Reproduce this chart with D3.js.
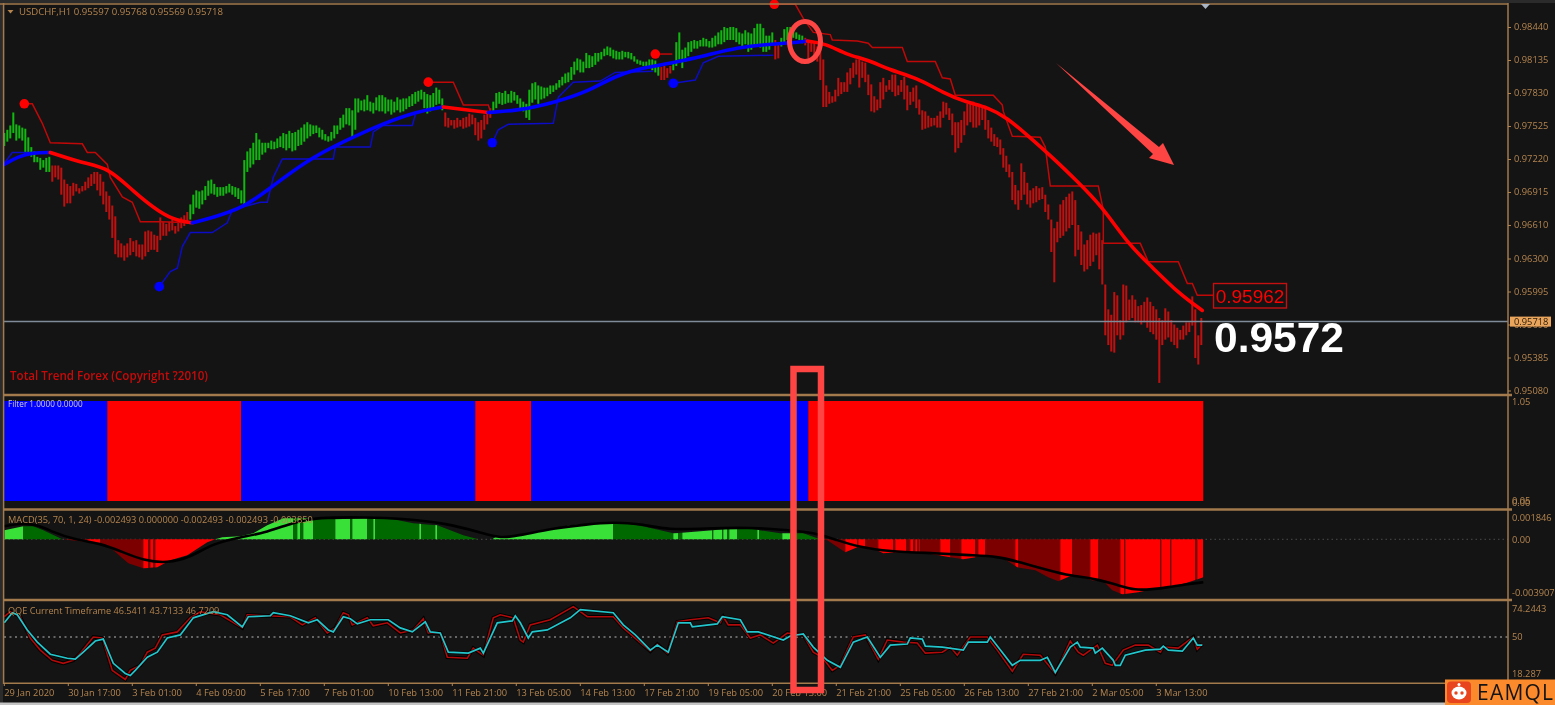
<!DOCTYPE html>
<html><head><meta charset="utf-8">
<script src="https://cdn.jsdelivr.net/npm/d3@7/dist/d3.min.js"></script>
<style>
html,body{margin:0;padding:0;background:#141414;overflow:hidden}
svg{display:block;filter:blur(0.5px)}
text{font-family:"Open Sans","Noto Sans",sans-serif}
</style></head><body>
<svg id="c" width="1555" height="705"></svg>
<script>
// ---- Price bars, prices in units of 0.0001, one bar every 1.5 chart hours
const barHigh=[9746,9749,9753,9765,9754,9753,9751,9750,9742,9733,9729,9724,9723,9721,9723,9724,
9716,9716,9716,9714,9703,9699,9697,9700,9699,9695,9697,9701,9705,9708,9710,9710,9708,9701,9692,9688,9679,9669,9647,9644,9642,9644,9649,9646,9647,9643,9643,9655,9656,9655,9652,9651,9668,9664,9662,9664,9666,9660,9664,9668,9670,9673,
9680,9689,9693,9692,9693,9697,9702,9703,9699,9696,9696,9696,9697,9699,9697,9696,9695,9693,9721,9729,9732,9737,9746,9740,9737,9737,9737,9739,9738,9741,9743,9746,9745,9748,9746,9747,9749,9751,9754,9756,9754,9753,9753,9751,9749,9745,9743,9747,9753,9753,9760,9763,9769,9769,9767,9778,9778,9776,9777,9781,9775,9774,9779,9781,9781,9779,9777,9777,9775,9779,9777,9778,9778,9780,9782,9784,9785,9786,9784,9782,9781,9783,9788,9786,9778,
9765,9760,9758,9758,9760,9758,9760,9761,9764,9763,9760,9756,9758,9763,9766,9769,
9775,9783,9784,9783,9785,9782,9785,9784,9781,9778,9775,9773,9786,9792,9793,9790,9789,9788,9788,9790,9790,9792,9795,9798,9801,9802,9807,9812,9815,9814,9812,9820,9818,9817,9820,9820,9821,9824,9826,9825,9823,9822,9821,9822,9821,9821,9820,9817,9814,9813,9812,9812,9814,9814,9813,9808,
9807,9808,9806,9808,
9812,9830,9839,9823,9825,9830,9831,9832,9831,9832,9834,9833,9831,9834,9836,9839,9841,9844,9843,9844,9844,9843,9839,9838,9841,9839,9838,9843,9847,9847,9843,9836,9836,9839,
9832,9830,
9834,9842,9844,9844,9841,9839,9837,9836,9834,
9832,9832,9830,9826,9823,9814,9790,9784,9780,9786,9797,9793,9793,9802,9806,9811,9814,9814,9812,9811,9800,9791,9780,9777,9793,9797,9790,9795,9800,9800,9790,9795,9798,9790,9784,9788,9790,9777,9767,9766,9762,9760,9760,9762,9766,9775,9774,9769,9764,9756,9756,9758,9766,9773,9775,9775,9771,9771,9770,9770,9758,9751,9745,9742,9740,9732,9725,9717,9710,9698,9693,9718,9710,9700,9693,9695,9697,9695,9696,9689,9680,9666,9658,9664,9680,9684,9687,9690,9692,9684,9661,9655,9643,9647,9652,9654,9653,9654,9647,9606,9583,9578,9599,9596,9573,9606,9605,9592,9596,9592,9586,9587,9590,9594,9590,9586,9583,9575,9573,9584,9581,9573,9569,9566,9564,9568,9571,9571,9595,9583,9559,9575];
const barLow=[9734,9738,9741,9746,9739,9741,9739,9727,9728,9724,9719,9719,9712,9714,9710,9710,
9701,9705,9703,9689,9678,9681,9681,9688,9692,9690,9692,9693,9695,9697,9699,9693,9688,9680,9673,9666,9649,9634,9631,9631,9628,9631,9633,9636,9632,9631,9629,9632,9636,9638,9638,9636,9647,9651,9651,9655,9656,9653,9655,9658,9660,9662,
9666,9671,9677,9676,9680,9684,9688,9690,9689,9687,9688,9688,9690,9691,9689,9687,9685,9681,9679,9710,9714,9717,9721,9721,9726,9728,9732,9731,9731,9732,9733,9732,9730,9732,9729,9730,9734,9735,9738,9741,9743,9745,9746,9742,9740,9739,9738,9739,9741,9745,9749,9751,9754,9753,9741,9749,9765,9767,9766,9767,9766,9764,9767,9766,9766,9764,9766,9763,9765,9767,9765,9766,9768,9770,9771,9773,9775,9777,9769,9764,9766,9769,9772,9773,9767,
9752,9751,9753,9750,9751,9752,9750,9751,9752,9754,9744,9739,9741,9749,9754,9760,
9766,9769,9773,9772,9773,9774,9774,9776,9773,9769,9766,9760,9758,9774,9777,9773,9777,9778,9780,9782,9784,9786,9788,9790,9792,9793,9795,9800,9804,9802,9802,9806,9806,9807,9809,9812,9814,9817,9818,9817,9815,9814,9814,9814,9816,9815,9814,9812,9810,9809,9808,9807,9806,9804,9802,9799,
9795,9795,9797,9801,
9804,9808,9814,9806,9812,9817,9821,9824,9824,9826,9826,9826,9825,9825,9826,9828,9828,9830,9832,9832,9832,9830,9828,9826,9828,9821,9823,9826,9828,9825,9821,9821,9823,9827,
9814,9815,
9826,9830,9832,9834,9834,9833,9832,9829,9827,
9815,9821,9815,9812,9795,9770,9770,9773,9774,9775,9780,9782,9784,9784,9791,9797,9800,9788,9797,9793,9781,9766,9765,9767,9769,9777,9784,9786,9784,9780,9781,9784,9777,9767,9772,9775,9769,9763,9749,9750,9751,9752,9753,9751,9751,9760,9763,9758,9744,9728,9732,9737,9744,9753,9756,9751,9751,9753,9758,9749,9741,9738,9734,9733,9726,9714,9710,9705,9684,9680,9675,9684,9689,9680,9677,9681,9682,9684,9685,9673,9666,9636,9608,9645,9649,9651,9655,9658,9661,9632,9638,9624,9618,9620,9623,9627,9633,9620,9606,9559,9550,9544,9543,9559,9555,9559,9571,9573,9575,9571,9571,9569,9571,9566,9562,9560,9555,9515,9550,9555,9557,9553,9550,9547,9555,9555,9559,9562,9568,9538,9532,9550];
// bar colour changes: first bar index of each run
const barRunStart=[0,16,62,147,163,219,223,257,259,267];
const barRunUp=[1,0,1,0,1,0,1,0,1,0];

// ---- Trend line (hours, price x 10000)
const maHour=[0,6.5,14.5,23,39.5,52,64.5,78,86.5,94,104.5,119.5,131.5,151.5,169.5,189.5,206.5,219.5,242,258,274.5,291.5,306.5,321.5,334.5,351.5,366.5,381.5,391.5,401.5,410.5,421.5,431.5,443,456.5,469.5,481.5,491.5,501.5,511.5,525.5,535.5,549,562,574,587,599];
const maPrice=[9717,9724,9728,9728,9718,9714,9692,9672,9665,9663,9668,9677,9693,9721,9738,9755,9766,9770,9765,9767,9774,9784,9800,9807,9811,9818,9825,9828,9829,9831,9829,9818,9814,9804,9797,9783,9774,9770,9760,9744,9721,9703,9678,9643,9622,9598,9582];
const maSwitchHours=[0,23,94,219.5,242,401.5,599];
const maSwitchUp=[1,0,1,0,1,0];

// ---- Trailing stops (hours / price x 10000)
const stopDown1=[[10,9773],[14,9773],[19,9755],[23,9737],[39,9736],[41.5,9728],[45.5,9728],[51.5,9717],[53,9705],[59,9687],[64,9682],[68,9664],[78,9664],[94,9663]];
const stopDown2=[[212,9793],[224.5,9793],[229.5,9772],[242,9772],[243,9766]];
const stopDown3=[[325.5,9819],[334,9819]];
const stopDown4=[[385,9865],[395.5,9865],[399.5,9852],[404.5,9839],[413,9837],[414,9832],[426.5,9831],[432,9829],[434,9825],[449,9825],[451.5,9812],[465.5,9812],[469,9797],[473,9796],[475.5,9781],[494.5,9781],[499,9772],[499.5,9766],[504,9743],[518,9742],[520.5,9733],[523,9697],[547,9697],[549.5,9675],[549.5,9644],[568,9644],[572,9627],[587,9627],[591.5,9607],[594,9607],[596.5,9596],[604.5,9596]];
const stopUp1=[[0,9718],[4,9728],[9.5,9728],[18,9728]];
const stopUp2=[[77.5,9604],[83,9618],[86.5,9621],[89,9641],[93,9654],[104,9654],[111.5,9663],[114,9675],[128,9682],[131.5,9682],[134.5,9705],[139,9722],[164.5,9722],[165.5,9733],[183,9733],[184.5,9747],[189.5,9753],[204,9753],[205.5,9763]];
const stopUp3=[[244,9737],[247,9749],[252,9754],[274.5,9755],[277,9779],[284.5,9793],[298,9794],[305.5,9802],[324.5,9803]];
const stopUp4=[[334.5,9792],[345.5,9795],[349.5,9811],[357,9817],[384.5,9818]];

// ---- Filter panel
const filterHours=[0,51.5,118.5,235.5,263.5,402,599.5];
const filterUp=[1,0,1,0,1,0];

// ---- MACD, values x 1e-6
const histHour=[0,9.5,14.5,19.5,29,41.5,48,54.5,62,69.5,76.5,83,91.5,101.5,105.5,109,118,124.5,131.5,139.5,154.5,164.5,181.5,194.5,204.5,216.5,229.5,237,244,245.5,258,269.5,283,303,311.5,321.5,334.5,348,364.5,374.5,388,399.5,406.5,408,411.5,420.5,426.5,434.5,439.5,446.5,458,473,479.5,491.5,499.5,506.5,515.5,522,527,534,544,549,554,559,567,574,582,590.5,599.5];
const histValue=[675,975,975,675,0,-200,-280,-825,-1800,-2175,-2100,-1575,-1200,-225,0,150,225,450,1050,1575,1575,1500,1575,1500,1200,1050,300,0,0,150,300,675,1050,1275,1200,900,450,600,825,750,450,450,75,0,-75,-975,-600,-675,-1050,-975,-975,-1350,-1500,-1200,-1425,-2100,-2325,-2850,-3150,-2700,-3075,-3075,-3825,-4125,-3975,-3750,-3600,-3300,-2850];
const signalHour=[0,8,16.5,24.5,34.5,48,59.5,69.5,81.5,93,104.5,118,131.5,144.5,156.5,181.5,198,221.5,239.5,248,258,274.5,291.5,304.5,316.5,333,349.5,374.5,391.5,404.5,416.5,428,441.5,466.5,483,496.5,508,524,532,547,557,565.5,574,582,590.5,599.5];
const signalValue=[975,1200,1125,525,0,-300,-975,-1575,-1800,-1350,-300,150,525,1275,1650,1650,1575,1200,450,75,300,825,1125,1275,1200,675,825,900,675,525,-75,-600,-900,-1050,-1200,-1275,-1725,-2400,-2700,-3000,-3450,-3825,-3750,-3600,-3375,-3225];
const zoneStart=[0,9.5,29,41.5,48,69.5,72,73,74.5,75.5,105.5,144.5,146.5,148,149.5,154.5,165.5,173,174,181.5,184.5,185.5,207.5,208.5,215.5,216.5,244,304.5,334.5,337,339,354,354.5,359,359.5,361.5,362.5,366.5,376.5,377.5,389,393,408,420.5,426.5,427,430.5,437,444.5,445.5,451,453,454.5,455.5,456.5,457.5,458,468,473,478.5,485.5,487,490.5,505.5,507,528,534,543,547,558,560,560.5,578,578.5,583,583.5,595.5,596.5,599.5];
const zoneKind="LGdRdRdRdR"+"LG".repeat(16)+"dR".repeat(18);

// ---- QQE
const qqeFastHour=[0,3,8,13,18,24,29.5,34.5,38,44.5,49,54,60.5,63,68,71.5,75.5,79,86.5,93,98,108,119,121.5,131.5,143,149,155.5,161.5,165.5,169.5,172,174,181.5,184.5,191.5,198,204.5,209.5,212,218,221.5,231.5,234.5,239.5,244.5,248,254.5,258,259.5,263,273,284.5,291.5,304.5,309.5,323,326.5,331.5,336.5,343,352,358,359.5,362,368,373,378,384.5,391.5,399.5,404.5,409,414,418,424.5,430.5,437,441.5,449.5,456.5,460.5,469,473,476.5,483,491.5,496.5,504,509.5,518,525.5,533,537,539.5,546.5,550.5,554,559.5,565.5,572,578,579.5,587,594.5,596.5,599];
const qqeFastValue=[66.7,70.8,66.7,49.2,39.2,30.8,28.3,30.8,36.7,50,49.2,22.5,15,22.5,26.7,37.5,40.8,51.7,54.2,65.8,70.8,68.3,57.5,68.3,67.5,66.7,60,65.8,53.3,57.5,70,68.3,60,65.8,59.2,61.7,53.3,55.8,65,53.3,53.3,33.3,32.5,40.8,35,65.8,68.3,65.8,47.5,45.8,60,64.2,75,66.7,66.7,57.5,38.3,44.2,36.7,62.5,64.2,65.8,61.7,66.7,60,60,49.2,51.7,45,53.3,51.7,37.5,33.3,22.5,26.7,50,51.7,31.7,47.5,45.8,45,36.7,37.5,41.7,35,50,50,39.2,21.7,35.8,35,20,46.7,37.5,35,43.3,28.3,26.7,39.2,43.3,43.3,37.5,41.7,40.8,50,40,44.2];
const qqeSlowHour=[0,4,6.5,11.5,16.5,23,31.5,35.5,39.5,45.5,49.5,54.5,60.5,63,65.5,71.5,76.5,81.5,88,94.5,104.5,111.5,119,122,133,134.5,143,152,156.5,162,164.5,169.5,173,176.5,183,192,198,204,210.5,213,218,222,232,238,239.5,246.5,254,255.5,258,262,264,271.5,283,288,304.5,309.5,315.5,323,326.5,332,337,343,344,356.5,359,368,371.5,377,389.5,393,399.5,404.5,411.5,418,424.5,431.5,438,443,451.5,453,459,460.5,469,479.5,482,491.5,493,504,508,518,521.5,525.5,533,536.5,538,544.5,545.5,549,554.5,555.5,558,560.5,570.5,578,579.5,582,589,594.5,596.5,599];
const qqeSlowValue=[61.7,70,68.3,55.8,45.8,35.8,32.5,31.7,37.5,46.7,48.3,28.3,20,18.3,22.5,33.3,37.5,49.2,51.7,65.8,70.8,68.3,58.3,66.7,67.5,70,67.5,61.7,64.2,55.8,54.2,66.7,65,60.8,64.2,64.2,57.5,54.2,62.5,54.2,53.3,37.5,36.7,40.8,36.7,61.7,63.3,67.5,61.7,49.2,54.2,55.8,65.8,72.5,70,60,51.7,39.2,43.3,37.5,61.7,61.7,58.3,60.8,66.7,64.2,54.2,54.2,47.5,50.8,52.5,41.7,30.8,25,45.8,50,33.3,43.3,44.2,49.2,48.3,42.5,41.7,39.2,45.8,45.8,50,26.7,30.8,30.8,33.3,20.8,41.7,45.8,41.7,40.8,36.7,40.8,30.8,26.7,26.7,35,39.2,40,42.5,39.2,38.3,49.2,43.3,43.3];

// ---- Axis labels
const timeLabels=["29 Jan 2020","30 Jan 17:00","3 Feb 01:00","4 Feb 09:00","5 Feb 17:00","7 Feb 01:00","10 Feb 13:00","11 Feb 21:00","13 Feb 05:00","14 Feb 13:00","17 Feb 21:00","19 Feb 05:00","20 Feb 13:00","21 Feb 21:00","25 Feb 05:00","26 Feb 13:00","27 Feb 21:00","2 Mar 05:00","3 Mar 13:00"];
const priceTicks=[0.9844,0.98135,0.9783,0.97525,0.9722,0.96915,0.9661,0.963,0.95995,0.9569,0.95385,0.9508];
const lastPrice=0.95718;

const TAN="#b5854f",FRAME="#a27a4c",AXIS=9.3;
const svg=d3.select("#c");
const x=d3.scaleLinear().domain([0,600]).range([4.3,1204.3]);
const yP=d3.scaleLinear().domain([0.9844,0.9508]).range([27,390.5]);
const yF=d3.scaleLinear().domain([0,1]).range([501,401]);
const yM=d3.scaleLinear().domain([-4000,0]).range([539.3+4000/75,539.3]);
const yQ=d3.scaleLinear().domain([18.287,50]).range([675.5,637]);
const barStep=1.5;

svg.append("rect").attr("width",1555).attr("height",705).attr("fill","#141414");
svg.append("rect").attr("width",1555).attr("height",3).attr("fill","#2b2b2b");
svg.append("rect").attr("width",3).attr("height",705).attr("fill","#2b2b2b");
svg.append("rect").attr("y",702.5).attr("width",1555).attr("height",2.5).attr("fill","#c4c4c4");

// MACD zero dotted
svg.append("line").attr("x1",4).attr("x2",1508).attr("y1",yM(0)).attr("y2",yM(0)).attr("stroke","#4a4a4a").attr("stroke-width",1).attr("stroke-dasharray","1.5 3");

// Filter
filterUp.forEach((u,i)=>svg.append("rect").attr("x",x(filterHours[i])).attr("width",x(filterHours[i+1])-x(filterHours[i])).attr("y",yF(1)).attr("height",yF(0)-yF(1)).attr("fill",u?"#0000ff":"#ff0000"));

// Price bars
const barIsUp=i=>{let k=d3.bisectRight(barRunStart,i)-1;return barRunUp[k]};
svg.append("g").selectAll("line").data(barHigh).join("line")
 .attr("x1",(d,i)=>x(i*barStep)).attr("x2",(d,i)=>x(i*barStep))
 .attr("y1",d=>yP(d/1e4)).attr("y2",(d,i)=>yP(barLow[i]/1e4))
 .attr("stroke",(d,i)=>barIsUp(i)?"#10b810":"#c01010").attr("stroke-width",2);

// Stops
const stopLine=d3.line().x(d=>x(d[0])).y(d=>yP(d[1]/1e4));
[stopDown1,stopDown2,stopDown3,stopDown4].forEach(s=>{
 svg.append("path").attr("d",stopLine(s)).attr("fill","none").attr("stroke","#c00808").attr("stroke-width",1.5);
 svg.append("circle").attr("cx",x(s[0][0])).attr("cy",yP(s[0][1]/1e4)).attr("r",4.8).attr("fill","#ff0000");
});
svg.append("path").attr("d",stopLine(stopUp1)).attr("fill","none").attr("stroke","#0c0cc8").attr("stroke-width",1.5);
[stopUp2,stopUp3,stopUp4].forEach(s=>{
 svg.append("path").attr("d",stopLine(s)).attr("fill","none").attr("stroke","#0c0cc8").attr("stroke-width",1.5);
 svg.append("circle").attr("cx",x(s[0][0])).attr("cy",yP(s[0][1]/1e4)).attr("r",4.8).attr("fill","#0000ff");
});

// Trend line
const maPts=maHour.map((h,i)=>[h,maPrice[i]]);
const maLine=d3.line().x(d=>x(d[0])).y(d=>yP(d[1]/1e4)).curve(d3.curveBasis);
maSwitchUp.forEach((u,i)=>{
 const seg=maPts.filter(p=>p[0]>=maSwitchHours[i]&&p[0]<=maSwitchHours[i+1]);
 svg.append("path").attr("d",maLine(seg)).attr("fill","none").attr("stroke",u?"#0000ff":"#ff0000").attr("stroke-width",3.6).attr("stroke-linecap","round");
});

// Last price line
svg.append("line").attr("x1",4).attr("x2",1508).attr("y1",yP(lastPrice)).attr("y2",yP(lastPrice)).attr("stroke","#7f8b99").attr("stroke-width",1.5);

// MACD histogram
const defs=svg.append("defs");
const histPts=histHour.map((h,i)=>[h,histValue[i]]);
const histArea=d3.area().x(d=>x(d[0])).y0(yM(0)).y1(d=>yM(d[1]));
const histD=histArea(histPts);
const kindColor={L:"#38e038",G:"#006a00",d:"#7c0000",R:"#ff0000"};
for(let i=0;i<zoneStart.length-1;i++){
 const id="z"+i;
 defs.append("clipPath").attr("id",id).append("rect").attr("x",x(zoneStart[i])).attr("width",x(zoneStart[i+1])-x(zoneStart[i])).attr("y",500).attr("height",110);
 svg.append("path").attr("d",histD).attr("fill",kindColor[zoneKind[i]]).attr("clip-path",`url(#${id})`);
}
const sigLine=d3.line().x((d,i)=>x(signalHour[i])).y(d=>yM(d)).curve(d3.curveBasis);
svg.append("path").attr("d",sigLine(signalValue)).attr("fill","none").attr("stroke","#000").attr("stroke-width",2.6);

// QQE
svg.append("line").attr("x1",4).attr("x2",1508).attr("y1",yQ(50)).attr("y2",yQ(50)).attr("stroke","#b8b8b8").attr("stroke-width",1.2).attr("stroke-dasharray","2 3.5");
const qFast=qqeFastHour.map((h,i)=>[h,qqeFastValue[i]]),qSlow=qqeSlowHour.map((h,i)=>[h,qqeSlowValue[i]]);
const qLine=d3.line().x(d=>x(d[0])).y(d=>yQ(d[1]));
svg.append("path").attr("d",qLine(qFast)).attr("fill","none").attr("stroke","#000").attr("stroke-width",3.6);
svg.append("path").attr("d",qLine(qFast)).attr("fill","none").attr("stroke","#b00a0a").attr("stroke-width",1.6);
svg.append("path").attr("d",qLine(qSlow)).attr("fill","none").attr("stroke","#000").attr("stroke-width",3.4).attr("opacity",0.6);
svg.append("path").attr("d",qLine(qSlow)).attr("fill","none").attr("stroke","#22c6cc").attr("stroke-width",1.7);

// Frames
const frame=(x1,y1,x2,y2,w)=>svg.append("line").attr("x1",x1).attr("y1",y1).attr("x2",x2).attr("y2",y2).attr("stroke",FRAME).attr("stroke-width",w);
frame(0,4,1508,4,1.6);
frame(3.6,3,3.6,684,1.5);
frame(1508,3,1508,684,1.5);
frame(3,395,1512,395,2.6);
frame(3,509.5,1512,509.5,2.6);
frame(3,600,1512,600,2.6);
frame(3,683.3,1508,683.3,1.6);

// Right axes
const rt=(t,y,xp,anchor)=>svg.append("text").attr("x",xp||1514).attr("y",y).attr("dy","0.35em").attr("font-size",AXIS).attr("fill",TAN).attr("text-anchor",anchor||"start").text(t);
const pAxis=d3.axisRight(yP).tickValues(priceTicks).tickSize(3).tickFormat(d3.format(".5f"));
const pg=svg.append("g").attr("transform","translate(1508,0)").call(pAxis);
pg.select(".domain").remove();
pg.selectAll("line").attr("stroke",TAN);
pg.selectAll("text").attr("x",6).attr("fill",TAN).attr("font-size",AXIS).style("font-family",'"Open Sans"');

rt("1.05",402,1512);rt("0.05",501,1512);rt("0.00",502.5,1512);
rt("0.001846",518,1512);rt("0.00",539.5,1512);rt("-0.003907",593,1512);
rt("74.2443",608.5,1512);rt("50",637,1512);rt("18.287",674,1512);

// Last price tag
svg.append("rect").attr("x",1510).attr("y",316.6).attr("width",41).attr("height",10).attr("fill","#e9a55c");
svg.append("text").attr("x",1514).attr("y",yP(lastPrice)).attr("dy","0.35em").attr("font-size",AXIS).attr("fill","#2a1a08").text("0.95718");

// Time axis
const tScale=d3.scaleLinear().domain([0,1]).range([4.3,68.3]);
const tg=svg.append("g");
timeLabels.forEach((t,i)=>{
 tg.append("line").attr("x1",tScale(i)).attr("x2",tScale(i)).attr("y1",683).attr("y2",686).attr("stroke",TAN);
 tg.append("text").attr("x",tScale(i)).attr("y",692.5).attr("dy","0.35em").attr("font-size",AXIS).attr("fill",TAN).text(t);
});

// Panel titles
const title=(t,xp,y,c,s)=>svg.append("text").attr("x",xp).attr("y",y).attr("dy","0.35em").attr("font-size",s||10).attr("fill",c||TAN).text(t);
svg.append("path").attr("d","M7.5 10 L13.5 10 L10.5 13.5 Z").attr("fill",TAN);
title("USDCHF,H1  0.95597 0.95768 0.95569 0.95718",19,11.5,TAN,9.6);
title("Total Trend Forex (Copyright ?2010)",10,375.5,"#c80a0a",11.6).attr("font-weight",600);
title("Filter 1.0000 0.0000",8,404,"#d0c8d8",8.2);
title("MACD(35, 70, 1, 24) -0.002493 0.000000 -0.002493 -0.002493 -0.003850",8,519.5,TAN,9.25);
title("QQE Current Timeframe 46.5411 43.7133 46.7209",8,610.5,TAN,9.15);

// Top marker
svg.append("path").attr("d","M1201 4 L1210 4 L1205.5 9 Z").attr("fill","#a9b4c4");

// Annotations
svg.append("rect").attr("x",1213.5).attr("y",283.5).attr("width",73).attr("height",24.5).attr("fill","none").attr("stroke","#c41010").attr("stroke-width",1.4);
svg.append("text").attr("x",1250).attr("y",303).attr("text-anchor","middle").attr("font-size",19).attr("fill","#ff0000").style("font-family",'"Liberation Sans"').text("0.95962");
svg.append("text").attr("x",1214).attr("y",352).attr("font-size",42.5).attr("font-weight",700).attr("fill","#fff").style("font-family",'"Liberation Sans"').text("0.9572");
svg.append("ellipse").attr("cx",805).attr("cy",41.5).attr("rx",15.5).attr("ry",20).attr("fill","none").attr("stroke","#ff4444").attr("stroke-width",5);
svg.append("rect").attr("x",793.5).attr("y",369).attr("width",27.5).attr("height",321).attr("fill","none").attr("stroke","#ff4444").attr("stroke-width",6.5);
svg.append("path").attr("d","M1056 63 L1159 147 L1163 143 L1174 165 L1149 158 L1153 154 Z").attr("fill","#ff4444");

// Logo
svg.append("rect").attr("x",1445).attr("y",679.5).attr("width",110).attr("height",25.5).attr("fill","#fb8a2c");
svg.append("rect").attr("x",1447).attr("y",681.5).attr("width",24).attr("height",21.5).attr("rx",4).attr("fill","#e8451e");
svg.append("ellipse").attr("cx",1459).attr("cy",693).attr("rx",7.5).attr("ry",6.5).attr("fill","#fff");
svg.append("circle").attr("cx",1459).attr("cy",684.5).attr("r",1.5).attr("fill","#fff");
svg.append("circle").attr("cx",1456).attr("cy",693).attr("r",1.7).attr("fill","#e8451e");
svg.append("circle").attr("cx",1462).attr("cy",693).attr("r",1.7).attr("fill","#e8451e");
svg.append("text").attr("x",1477).attr("y",700).attr("font-size",21).attr("fill","#141414").style("font-family",'"Open Sans"').attr("textLength",76).text("EAMQL");
</script>
</body></html>
